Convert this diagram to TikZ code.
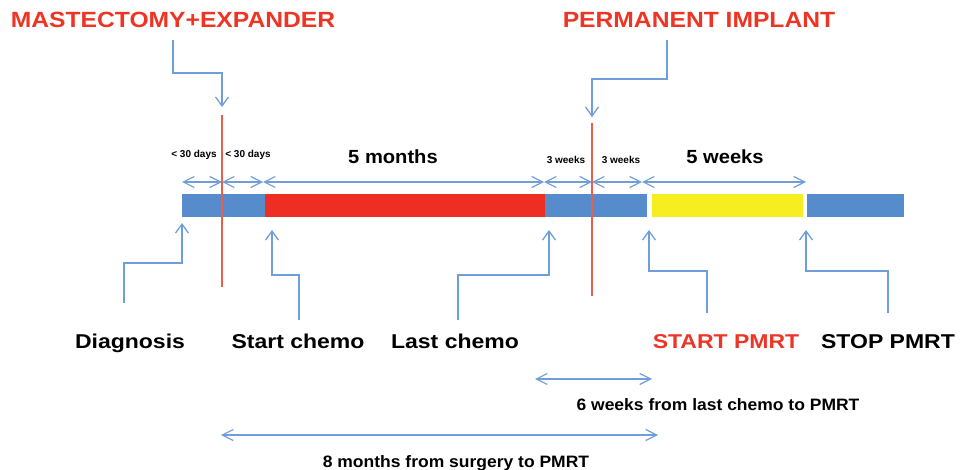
\documentclass[tikz,border=0pt]{standalone}
\usepackage{fontspec}
\setmainfont{Liberation Sans}
\usetikzlibrary{arrows.meta}
\definecolor{barblue}{RGB}{86,140,204}
\definecolor{lineblue}{RGB}{112,158,218}
\definecolor{barred}{RGB}{238,46,34}
\definecolor{baryellow}{RGB}{246,238,30}
\definecolor{txtred}{RGB}{238,52,36}
\definecolor{markred}{RGB}{232,96,76}
\tikzset{
	pointer/.style={lineblue, line width=1.3pt,
		-{Straight Barb[length=9pt,width=13pt]}},
	span/.style={lineblue, line width=1.2pt,
		{Straight Barb[length=11pt,width=11pt]}-{Straight Barb[length=11pt,width=11pt]}},
	surgery/.style={markred, line width=1.5pt},
	title/.style={txtred, anchor=base, inner sep=0pt,
		font=\bfseries\fontsize{22}{26}\selectfont\addfontfeature{FakeStretch=1.12}},
	event/.style={anchor=base, inner sep=0pt,
		font=\bfseries\fontsize{20}{24}\selectfont\addfontfeature{FakeStretch=1.15}},
	tiny/.style={anchor=base, inner sep=0pt, font=\bfseries\fontsize{10}{12}\selectfont},
	period/.style={anchor=base, inner sep=0pt, font=\bfseries\fontsize{19}{22}\selectfont\addfontfeature{FakeStretch=1.06}},
	summary/.style={anchor=base, inner sep=0pt,
		font=\bfseries\fontsize{16.5}{20}\selectfont\addfontfeature{FakeStretch=1.06}},
}

\begin{document}
\begin{tikzpicture}[x=1pt, y=-1pt]
\useasboundingbox (0,0) rectangle (960,470);

% timeline bar
\fill[barblue] (182,194) rectangle (265,217);
\fill[barred] (265,194) rectangle (545,217);
\fill[barblue] (545,194) rectangle (647,217);
\fill[baryellow] (652,194) rectangle (803,217);
\fill[barblue] (807,194) rectangle (904,217);

% interval marks above the bar
\foreach \a/\b in {182/222, 222/263, 263/544, 544/592, 592/642, 642/806}
\draw[span] (\a,182) -- (\b,182);

\node[tiny] (dayA) at (194,157.5) {< 30 days};
\node[tiny] (dayB) at (248,157.5) {< 30 days};
\node[period] (months) at (393,164) {5 months};
\node[tiny] (weekA) at (566,163.5) {3 weeks};
\node[tiny] (weekB) at (621,163.5) {3 weeks};
\node[period] (weeks) at (725,164) {5 weeks};

% surgeries
\node[title] (mast) at (173,28) {MASTECTOMY+EXPANDER};
\node[title] (perm) at (699,28) {PERMANENT IMPLANT};
\coordinate (mastFoot) at (173,40);
\coordinate (mastKnee) at (222,73);
\coordinate (mastTip) at (222,107);
\coordinate (permFoot) at (667,40);
\coordinate (permKnee) at (592,79);
\coordinate (permTip) at (592,117);
\draw[pointer] (mastFoot) |- (mastKnee) -- (mastTip);
\draw[pointer] (permFoot) |- (permKnee) -- (permTip);
\draw[surgery] (222,115) -- (222,287);
\draw[surgery] (592,123) -- (592,296);

% events below the bar
\node[event] (diag) at (130,348) {Diagnosis};
\node[event] (start) at (298,348) {Start chemo};
\node[event] (last) at (455,348) {Last chemo};
\node[event, txtred] (pmrt) at (726,348) {START PMRT};
\node[event] (stop) at (888,348) {STOP PMRT};

\coordinate (diagFoot) at (124,303);
\coordinate (diagKnee) at (182,263);
\coordinate (diagTip) at (182,223);
\coordinate (startFoot) at (299,320);
\coordinate (startKnee) at (272,275);
\coordinate (startTip) at (272,230);
\coordinate (lastFoot) at (458,320);
\coordinate (lastKnee) at (549,275);
\coordinate (lastTip) at (549,230);
\coordinate (pmrtFoot) at (707,313);
\coordinate (pmrtKnee) at (649,271);
\coordinate (pmrtTip) at (649,230);
\coordinate (stopFoot) at (888,313);
\coordinate (stopKnee) at (806,271);
\coordinate (stopTip) at (806,230);

\foreach \p in {diag, start, last, pmrt, stop}
\draw[pointer] (\p Foot) |- (\p Knee) -- (\p Tip);

% overall intervals
\coordinate (sixL) at (535,379);
\coordinate (sixR) at (652,379);
\coordinate (eightL) at (221,435);
\coordinate (eightR) at (658,435);
\draw[span] (sixL) -- (sixR);
\draw[span] (eightL) -- (eightR);
\node[summary] (six) at (718,410) {6 weeks from last chemo to PMRT};
\node[summary] (eight) at (456,467) {8 months from surgery to PMRT};
\end{tikzpicture}
\end{document}
